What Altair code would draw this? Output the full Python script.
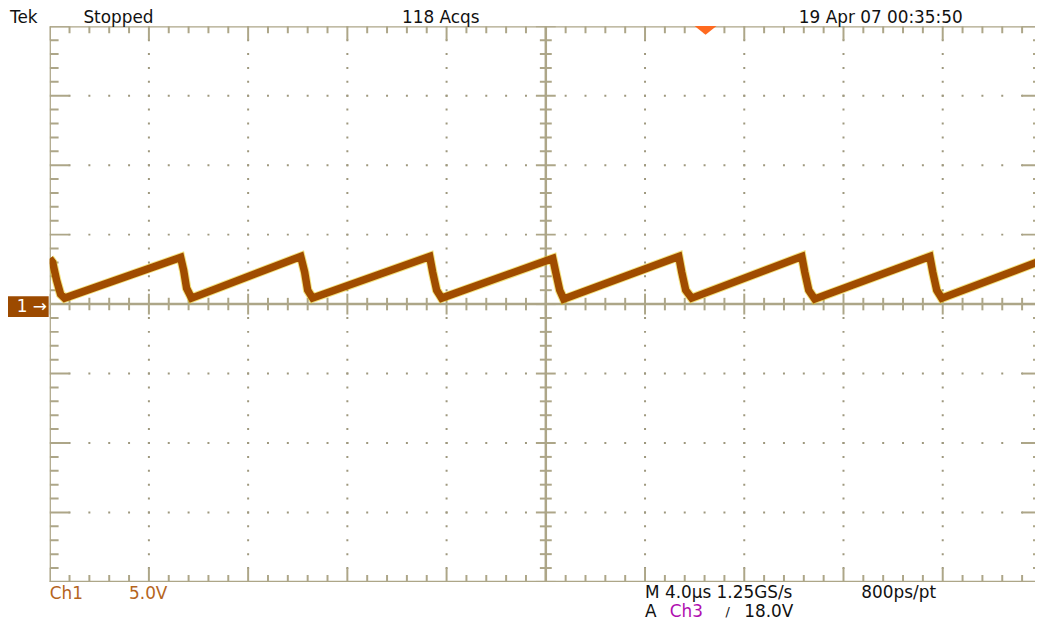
import altair as alt
import pandas as pd
import numpy as np

# ---- waveform (Ch1), time in microseconds, voltage in volts ----
wave_t = [-20.0, -19.88, -19.72, -19.56, -19.4,
          -14.72, -14.6, -14.48, -14.28,
          -9.88, -9.72, -9.6, -9.4,
          -4.68, -4.56, -4.4, -4.2,
          0.28, 0.4, 0.56, 0.72,
          5.36, 5.48, 5.64, 5.88,
          10.32, 10.44, 10.6, 10.84,
          15.48, 15.6, 15.76, 15.96,
          20.0]
wave_v = [3.29, 3.0, 1.71, 0.71, 0.43,
          3.36, 2.43, 1.14, 0.43,
          3.43, 2.29, 1.0, 0.43,
          3.43, 2.29, 1.0, 0.43,
          3.29, 2.29, 1.0, 0.36,
          3.43, 2.29, 1.0, 0.43,
          3.43, 2.29, 1.0, 0.36,
          3.43, 2.29, 1.0, 0.43,
          3.14]

# trigger position marker
trig_t = [6.44]
trig_v = [19.71]

# screen texts
labels = ["Tek", "Stopped", "118 Acqs", "19 Apr 07 00:35:50",
          "Ch1", "5.0V", "M 4.0\u00b5s 1.25GS/s", "800ps/pt",
          "A", "Ch3", "/", "18.0V"]
label_x = [-40, 34, 355, 755, 0, 80, 600, 818, 600, 625, 681, 700]
label_y = [-3, -3, -3, -3, 572, 572, 571, 571, 590, 590, 590, 590]
label_c = ["#111111", "#111111", "#111111", "#111111",
           "#b5651d", "#b5651d", "#111111", "#111111",
           "#111111", "#b010b0", "#111111", "#111111"]
label_s = [17, 17, 17, 17, 17, 17, 17, 17, 17, 17, 13, 17]
label_b = ["alphabetic"] * 4 + ["middle"] * 8

GRID = "#ada688"
DOT = "#9e987e"
BROWN = "#a04c00"

X = alt.Scale(domain=[-20, 19.72], nice=False, zero=False)
Y = alt.Scale(domain=[-20, 20], nice=False, zero=False)

wave = pd.DataFrame({"t": wave_t, "v": wave_v})

# ---- graticule ----
vgrid = pd.DataFrame({"t": [-16, -12, -8, -4, 4, 8, 12, 16], "v": -20, "v2": 20})
hgrid = pd.DataFrame({"v": [-15, -10, -5, 5, 10, 15], "t": -20, "t2": 20})
frame = pd.DataFrame({
    "t": [-20, 20, -20, -20, 0, -20],
    "t2": [-20, 20, 20, 20, 0, 20],
    "v": [-20, -20, 20, -20, -20, 0],
    "v2": [20, 20, 20, -20, 20, 0],
})

segs = []
ts = np.round(np.arange(-20, 20.001, 0.8), 3)
vs = np.arange(-20, 21, 1)
for t in ts:
    major = abs(t / 4 - round(t / 4)) < 1e-6
    L = 1.0 if major else 0.5
    segs.append((t, t, 20, 20 - L))
    segs.append((t, t, -20, -20 + L))
    h = 0.75 if major else 0.45
    segs.append((t, t, -h, h))
for v in vs:
    major = v % 5 == 0
    L = 0.8 if major else 0.36
    segs.append((-20, -20 + L, v, v))
    segs.append((20, 20 - L, v, v))
    w = 0.4 if major else 0.24
    segs.append((-w, w, v, v))
ticks = pd.DataFrame(segs, columns=["t", "t2", "v", "v2"])

def xq(f="t"):
    return alt.X(f"{f}:Q", scale=X, axis=None)

def yq(f="v"):
    return alt.Y(f"{f}:Q", scale=Y, axis=None)

vg = alt.Chart(vgrid).mark_rule(color=DOT, strokeWidth=2, strokeDash=[2, 12], strokeDashOffset=1, clip=True).encode(
    x=xq(), y=yq(), y2="v2:Q")
hg = alt.Chart(hgrid).mark_rule(color=DOT, strokeWidth=2, strokeDash=[2, 18], strokeDashOffset=1, clip=True).encode(
    x=xq(), x2="t2:Q", y=yq())
fr = alt.Chart(frame).mark_rule(color=GRID, strokeWidth=2.5, clip=True).encode(
    x=xq(), x2="t2:Q", y=yq(), y2="v2:Q")
tk = alt.Chart(ticks).mark_rule(color=GRID, strokeWidth=2, clip=True).encode(
    x=xq(), x2="t2:Q", y=yq(), y2="v2:Q")

halo = alt.Chart(wave).mark_line(color="#e8c800", strokeWidth=9.5, opacity=0.5, clip=True).encode(
    x=xq(), y=yq())
line = alt.Chart(wave).mark_line(color=BROWN, strokeWidth=7.5, clip=True).encode(
    x=xq(), y=yq())

trig = alt.Chart(pd.DataFrame({"t": trig_t, "v": trig_v})).mark_point(
    shape="M-1,-0.4L1,-0.4L0,0.4Z", size=484, filled=True, color="#ff6a20", opacity=1).encode(
    x=xq(), y=yq())

box = alt.Chart(pd.DataFrame({"k": [1]})).mark_rect(color="#9c4a00").encode(
    x=alt.value(-43), x2=alt.value(-1), y=alt.value(272), y2=alt.value(293))
boxtxt = alt.Chart(pd.DataFrame({"label": ["1 \u2192"]})).mark_text(
    color="white", font="DejaVu Sans", fontSize=17, align="center", baseline="middle").encode(
    x=alt.value(-18), y=alt.value(283), text="label:N")

layers = [vg, hg, fr, tk, halo, line, trig, box, boxtxt]
for lab, px, py, col, fs, bl in zip(labels, label_x, label_y, label_c, label_s, label_b):
    layers.append(
        alt.Chart(pd.DataFrame({"label": [lab]})).mark_text(
            color=col, font="DejaVu Sans", fontSize=fs, align="left", baseline=bl).encode(
            x=alt.value(px), y=alt.value(py), text="label:N"))

chart = alt.layer(*layers).properties(
    width=993, height=560, autosize="none",
    padding={"left": 42, "top": 16, "right": 0, "bottom": 39},
    background="white",
).configure_view(stroke=None)

chart.save("out.html", embed_options={"renderer": "svg", "actions": False})
